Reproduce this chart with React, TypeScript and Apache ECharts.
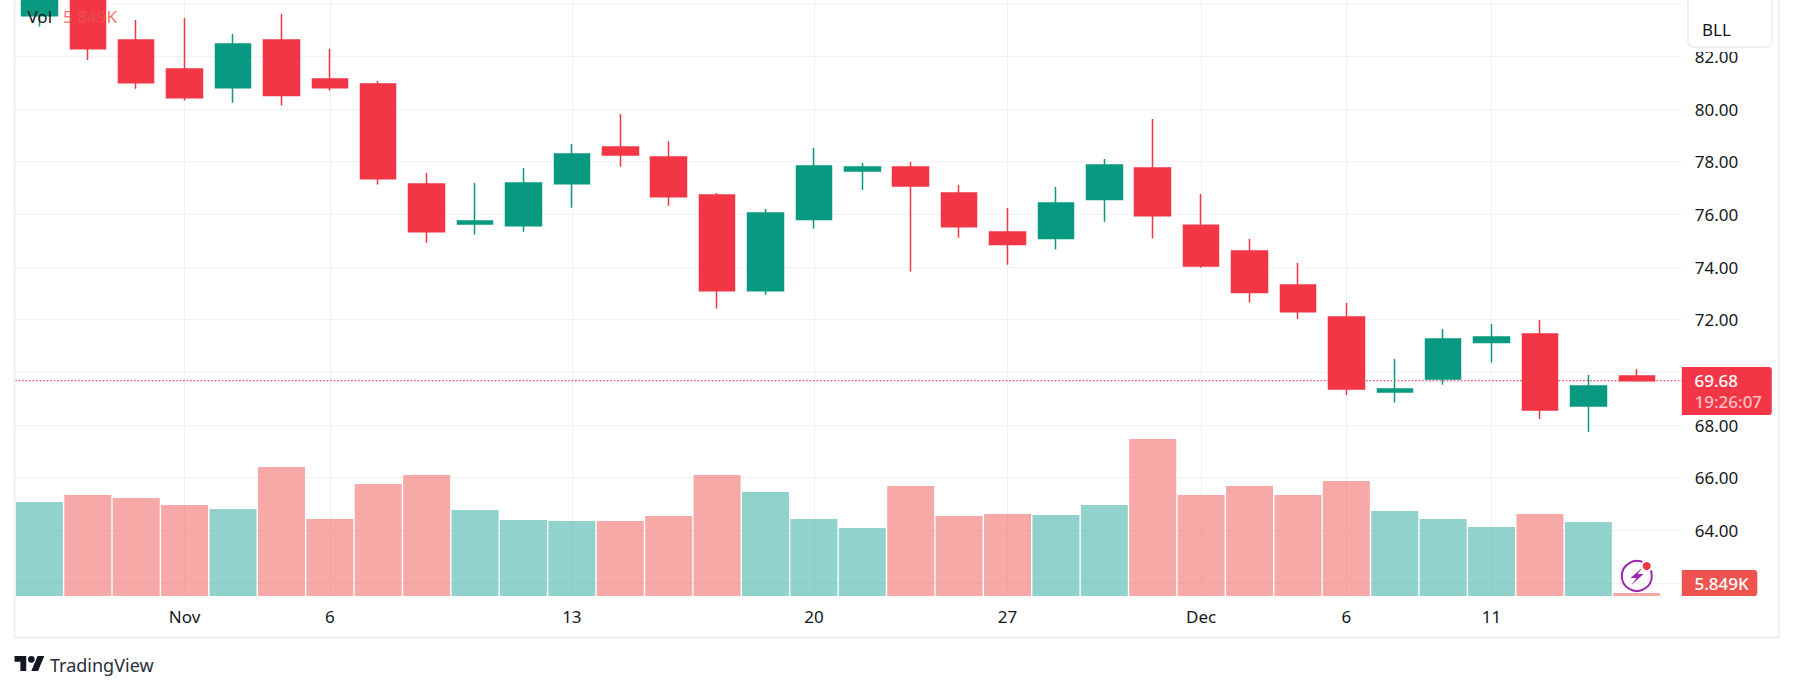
import React, { useEffect, useRef } from "react";
import * as echarts from "echarts";

// Each row: open, close, low, high (the first two candles rise above the visible top edge)
const opens = [83.54, 84.6, 82.62, 81.52, 80.81, 82.62, 81.14, 80.95, 77.15, 75.63, 75.57, 77.16, 78.56, 78.18, 76.73, 73.10, 75.80, 77.65, 77.80, 76.81, 75.33, 75.08, 76.56, 77.76, 75.59, 74.61, 73.32, 72.10, 69.25, 69.75, 71.13, 71.46, 68.72, 69.86];
const closes = [85.0, 82.29, 81.00, 80.43, 82.47, 80.51, 80.81, 77.35, 75.34, 75.75, 77.19, 78.29, 78.25, 76.67, 73.10, 76.05, 77.84, 77.80, 77.08, 75.53, 74.85, 76.43, 77.87, 75.95, 74.04, 73.03, 72.30, 69.37, 69.37, 71.27, 71.34, 68.57, 69.48, 69.68];
const lows = [83.13, 81.86, 80.77, 80.32, 80.24, 80.13, 80.70, 77.13, 74.92, 75.23, 75.34, 76.25, 77.81, 76.33, 72.42, 72.95, 75.46, 76.92, 73.83, 75.11, 74.09, 74.66, 75.72, 75.08, 73.97, 72.65, 72.03, 69.14, 68.85, 69.53, 70.37, 68.23, 67.73, 69.67];
const highs = [85.4, 85.0, 83.38, 83.46, 82.85, 83.61, 82.28, 81.06, 77.57, 77.19, 77.76, 78.67, 79.81, 78.78, 76.81, 76.20, 78.53, 77.95, 77.99, 77.11, 76.24, 77.04, 78.10, 79.62, 76.77, 75.06, 74.15, 72.63, 70.51, 71.65, 71.84, 71.99, 69.90, 70.13];
// Volume in thousands; the last one is the printed 5.849K
const volumes = [1880, 2020, 1960, 1820, 1740, 2580, 1540, 2240, 2420, 1720, 1520, 1500, 1500, 1600, 2420, 2080, 1540, 1360, 2200, 1600, 1640, 1620, 1820, 3140, 2020, 2200, 2020, 2300, 1700, 1540, 1380, 1640, 1480, 5.849];

const tickIndexes = [3, 6, 11, 16, 20, 24, 27, 30];
const tickLabels = ["Nov", "6", "13", "20", "27", "Dec", "6", "11"];
const priceTicksWithoutLabel = [62, 84, 86];
const lastPrice = 69.68;
const countdown = "19:26:07";
const lastVolume = "5.849K";
const symbolName = "BLL";

const FONT = "'Noto Sans', sans-serif";
const RED = "#F23645";
const GREEN = "#089981";
const INK = "#131722";
const GRID = "#F3F3F4";
const FRAME = "#EFF0F4";

const X_MIN = -0.5;
const X_MAX = 33.93;

const TV_LOGO = "M14 22H7V11H0V4h14v18zM28 22h-8l7.5-18h8L28 22zM24 8a4 4 0 1 1-8 0a4 4 0 0 1 8 0z";

export default function App() {
  const ref = useRef<HTMLDivElement>(null);
  useEffect(() => {
    const chart = echarts.init(ref.current!, undefined, { renderer: "svg" });
    echarts.graphic.registerShape("tvlogo", echarts.graphic.extendPath(TV_LOGO, {}) as any);
    const xBase = { type: "value", min: X_MIN, max: X_MAX };
    chart.setOption({
      animation: false,
      backgroundColor: "#ffffff",
      textStyle: { fontFamily: FONT },
      grid: [
        { left: 15.2, width: 1666.6, top: -49, height: 632, outerBoundsMode: "none" },
        { left: 15.2, width: 1666.6, top: 0, height: 596, outerBoundsMode: "none" },
      ],
      xAxis: [
        { ...xBase, gridIndex: 0, show: false, splitLine: { show: false } },
        {
          ...xBase,
          gridIndex: 1,
          axisLine: { show: false },
          axisTick: { show: false, customValues: tickIndexes },
          splitLine: { show: true, customValues: tickIndexes, lineStyle: { color: "#F0F0F3", width: 1 } },
          axisLabel: {
            customValues: tickIndexes,
            formatter: (v: number) => tickLabels[tickIndexes.indexOf(v)] ?? "",
            color: INK,
            fontFamily: FONT,
            fontSize: 17,
            margin: 12,
            hideOverlap: false,
          },
        },
      ],
      yAxis: [
        {
          type: "value",
          gridIndex: 0,
          position: "right",
          min: 62,
          max: 86,
          interval: 2,
          axisLine: { show: false },
          axisTick: { show: false },
          splitLine: { show: true, lineStyle: { color: GRID, width: 1 } },
          axisLabel: {
            formatter: (v: number) => (priceTicksWithoutLabel.includes(v) ? "" : v.toFixed(2)),
            color: INK,
            fontFamily: FONT,
            fontSize: 17,
            margin: 13,
          },
        },
        { type: "value", gridIndex: 1, min: 0, max: 11920, show: false, splitLine: { show: false } },
      ],
      series: [
        {
          type: "bar",
          name: "Vol",
          xAxisIndex: 1,
          yAxisIndex: 1,
          z: 1,
          barWidth: 47,
          barMinHeight: 3,
          data: volumes.map((v, i) => ({
            value: [i, v],
            itemStyle: {
              color: closes[i] > opens[i] ? "rgba(38,166,154,0.5)" : "rgba(239,83,80,0.5)",
            },
          })),
        },
        {
          type: "line",
          name: "Last",
          xAxisIndex: 0,
          yAxisIndex: 0,
          z: 2,
          showSymbol: false,
          silent: true,
          lineStyle: { color: "#F01030", width: 1.2, type: [1.5, 2] },
          data: [[X_MIN, lastPrice], [X_MAX, lastPrice]],
        },
        {
          type: "candlestick",
          name: symbolName,
          xAxisIndex: 0,
          yAxisIndex: 0,
          z: 3,
          barWidth: 36,
          itemStyle: { color: GREEN, color0: RED, borderColor: GREEN, borderColor0: RED, borderWidth: 1.5 },
          data: opens.map((o, i) => [i, o, closes[i], lows[i], highs[i]]),
        },
      ],
      graphic: {
        elements: [
          // frame
          { type: "rect", z: 50, shape: { x: 13.5, y: 0, width: 2, height: 638 }, style: { fill: FRAME } },
          { type: "rect", z: 50, shape: { x: 13.5, y: 636.5, width: 1766, height: 2 }, style: { fill: FRAME } },
          { type: "rect", z: 50, shape: { x: 1778, y: 0, width: 2, height: 638 }, style: { fill: FRAME } },
          // legend
          { type: "text", z: 60, x: 27.5, y: 16, style: { text: "Vol", fill: INK, font: `17px ${FONT}`, verticalAlign: "middle" } },
          { type: "text", z: 60, x: 63, y: 16, style: { text: lastVolume, fill: "rgba(239,83,80,0.85)", font: `17px ${FONT}`, verticalAlign: "middle" } },
          // symbol box
          { type: "rect", z: 60, shape: { x: 1687, y: 0, width: 86, height: 52 }, style: { fill: "#ffffff" } },
          { type: "rect", z: 61, shape: { x: 1688, y: -10, width: 84, height: 57, r: 6 }, style: { fill: "#ffffff", stroke: FRAME, lineWidth: 2 } },
          { type: "text", z: 62, x: 1702, y: 29, style: { text: symbolName, fill: INK, font: `17px ${FONT}`, verticalAlign: "middle" } },
          // last price label
          { type: "rect", z: 60, shape: { x: 1681.8, y: 367, width: 90, height: 48, r: [0, 3, 3, 0] }, style: { fill: RED } },
          { type: "text", z: 61, x: 1694.5, y: 380.5, style: { text: lastPrice.toFixed(2), fill: "#ffffff", font: `500 17px ${FONT}`, verticalAlign: "middle" } },
          { type: "text", z: 61, x: 1694.5, y: 401.5, style: { text: countdown, fill: "rgba(255,255,255,0.7)", font: `500 17px ${FONT}`, verticalAlign: "middle" } },
          // volume label
          { type: "rect", z: 60, shape: { x: 1681.8, y: 570, width: 75.5, height: 26, r: [0, 3, 3, 0] }, style: { fill: "#EF5350" } },
          { type: "text", z: 61, x: 1694.5, y: 583.5, style: { text: lastVolume, fill: "#ffffff", font: `500 17px ${FONT}`, verticalAlign: "middle" } },
          // lightning badge
          { type: "circle", z: 60, shape: { cx: 1636.8, cy: 576, r: 15 }, style: { fill: "rgba(255,255,255,0)", stroke: "#9C27B0", lineWidth: 2 } },
          { type: "polygon", z: 61, shape: { points: [[1643, 567], [1630.5, 578], [1636.5, 578], [1631, 585.5], [1643.5, 574], [1637.5, 574]] }, style: { fill: "#9C27B0" } },
          { type: "circle", z: 61, shape: { cx: 1646.7, cy: 566, r: 6 }, style: { fill: "#ffffff" } },
          { type: "circle", z: 62, shape: { cx: 1646.7, cy: 566, r: 4 }, style: { fill: RED } },
          // watermark
          { type: "tvlogo", z: 60, x: 14.5, y: 652.6, scaleX: 0.84, scaleY: 0.84, style: { fill: INK } },
          { type: "text", z: 60, x: 50, y: 665, style: { text: "TradingView", fill: "#2A2E39", font: `18px ${FONT}`, verticalAlign: "middle" } },
        ],
      },
    });
    return () => chart.dispose();
  }, []);
  return <div ref={ref} style={{ position: "absolute", left: 0, top: 0, width: 1793, height: 691 }} />;
}
